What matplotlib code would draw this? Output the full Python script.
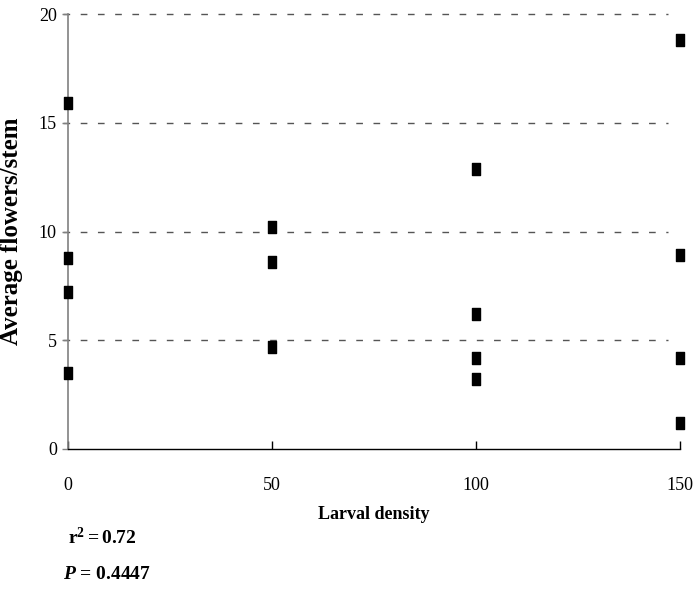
import matplotlib
matplotlib.use("Agg")
import matplotlib.pyplot as plt
from matplotlib.path import Path

plt.rcParams['font.family'] = ['Liberation Serif', 'DejaVu Serif']
plt.rcParams['mathtext.fontset'] = 'custom'
plt.rcParams['mathtext.rm'] = 'Liberation Serif'
plt.rcParams['mathtext.it'] = 'Liberation Serif:italic:bold'
plt.rcParams['mathtext.bf'] = 'Liberation Serif:bold'

# Larval density treatments and average flowers per stem
density = [0, 0, 0, 0, 50, 50, 50, 100, 100, 100, 100, 150, 150, 150, 150]
flowers = [15.9, 8.8, 7.2, 3.5, 10.2, 8.6, 4.7, 12.9, 6.2, 4.2, 3.2, 18.8, 8.9, 4.2, 1.2]

x_ticks = [0, 50, 100, 150]
y_ticks = [0, 5, 10, 15, 20]
r2_text = "0.72"
p_text = "0.4447"

fig = plt.figure(figsize=(6.94, 5.90), dpi=100)
ax = fig.add_axes([0.098, 0.239, 0.882, 0.737])

# tall narrow rectangle marker
rect = Path([(-0.28, -0.5), (0.28, -0.5), (0.28, 0.5), (-0.28, 0.5), (-0.28, -0.5)],
            [Path.MOVETO, Path.LINETO, Path.LINETO, Path.LINETO, Path.CLOSEPOLY])

# dashed horizontal gridlines
ax.hlines([5, 10, 15, 20], -0.008, 0.98, transform=ax.get_yaxis_transform(),
          colors='#555555', linewidth=1.0, linestyles=(0, (4.8, 7.6)),
          clip_on=False, zorder=1)

ax.plot(density, flowers, linestyle='none', marker=rect, markersize=9.2,
        color='black', clip_on=False, zorder=3)

ax.set_xlim(0, 150)
ax.set_ylim(0, 20)
ax.set_xticks(x_ticks)
ax.set_yticks(y_ticks)

for s in ['top', 'right']:
    ax.spines[s].set_visible(False)
ax.spines['left'].set_color('#808080')
ax.spines['left'].set_linewidth(1.2)
ax.spines['bottom'].set_color('black')
ax.spines['bottom'].set_linewidth(1.0)

ax.tick_params(axis='y', direction='out', length=4, width=1, color='#808080',
               labelsize=13, pad=4)
ax.tick_params(axis='x', direction='in', length=6, width=1, color='black',
               labelsize=13, pad=20)

ax.set_xlabel('Larval density', fontsize=13, fontweight='bold', labelpad=9)
ax.set_ylabel('Average flowers/stem', fontsize=18, fontweight='bold', labelpad=11)

fig.text(0.098, 0.089, r'$\mathbf{r^2 = }$' + r'$\mathbf{' + r2_text + '}$',
         fontsize=14, ha='left', va='center')
fig.text(0.091, 0.026, r'$\mathit{P}$' + ' = ' + p_text,
         fontsize=14, fontweight='bold', ha='left', va='center')

fig.savefig('out.png', dpi=100)
